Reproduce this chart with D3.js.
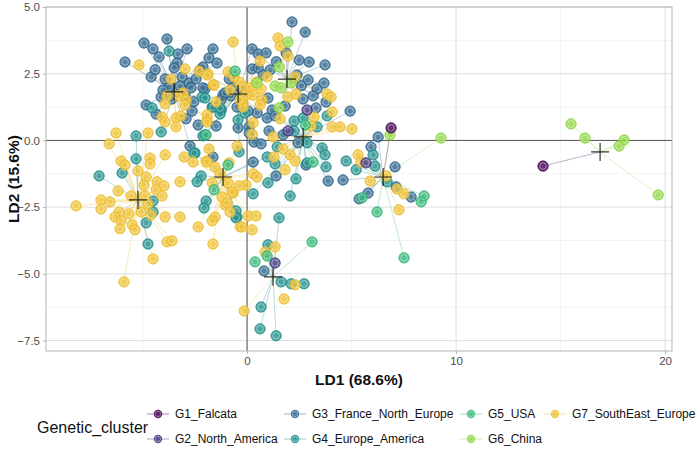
<!DOCTYPE html>
<html>
<head>
<meta charset="utf-8">
<script src="https://cdn.jsdelivr.net/npm/d3@7"></script>
<style>
  body { margin: 0; background: #fff; }
  svg { display: block; font-family: "Liberation Sans", Arial, sans-serif; }
</style>
</head>
<body>
<div id="chart"></div>
<script>
// centroid of each sub-population (LD1, LD2)
const popCentroids = [
  [-3.49, 1.82], [-0.43, 1.74], [1.91, 2.30], [2.68, 0.13], [-5.22, -2.23],
  [-1.15, -1.37], [6.51, -1.37], [1.24, -5.11], [16.89, -0.43]
];

// individuals per genetic cluster: [LD1, LD2, centroid index]
const g1Falcata = [[6.89, 0.47, 6], [14.16, -0.96, 8]];

const g2NorthAmerica = [[2.87, 1.14, 3], [1.96, 0.36, 3], [5.69, -0.84, 6], [1.34, -4.59, 7]];

const g3FranceNorthEurope = [
  [-4.93, 3.65, 0], [-3.83, 3.80, 0], [-4.50, 3.43, 0], [-3.30, 3.24, 0], [-2.87, 3.43, 0],
  [-4.21, 3.13, 0], [-5.84, 2.94, 0], [-3.35, 2.90, 0], [-3.49, 2.72, 0], [-4.59, 2.38, 0],
  [-3.92, 2.30, 0], [-3.11, 2.38, 0], [-2.78, 2.15, 0], [-2.68, 1.97, 0], [-3.73, 2.00, 0],
  [-4.11, 1.63, 0], [-4.83, 1.33, 0], [-4.35, 0.99, 0], [-2.63, 1.10, 0], [-2.92, 0.81, 0],
  [-2.34, 0.58, 0], [-1.48, 0.54, 0], [-2.73, -0.21, 0], [-2.44, 2.30, 0], [-2.11, 2.75, 0],
  [-1.82, 3.09, 0], [-1.63, 3.43, 0], [-1.44, 2.90, 0], [-2.01, 1.93, 0], [-3.21, 2.04, 0],
  [-4.02, 1.89, 0], [-2.97, 1.70, 0], [-3.60, 1.55, 0], [-2.55, 1.45, 0], [-4.40, 2.65, 0],
  [-1.15, 1.70, 1], [-1.24, 1.14, 1], [-0.77, 1.67, 1], [-0.67, 2.00, 1], [-0.48, 1.25, 1],
  [-0.43, 0.47, 1], [0.10, 0.51, 1], [-1.67, 1.25, 1], [-2.11, 1.97, 1], [-1.24, 1.52, 1],
  [-1.05, 1.78, 1], [0.24, 2.68, 1], [0.24, 3.43, 1], [0.53, 2.72, 1], [0.77, 2.45, 1],
  [0.48, 1.03, 1], [0.96, 0.84, 1], [1.00, 1.59, 1], [0.10, 0.28, 1], [0.33, -0.06, 1],
  [0.67, -0.13, 1], [-2.25, 2.64, 1], [-0.20, 1.85, 1], [-0.85, 2.30, 1], [0.05, 1.10, 1],
  [-1.63, -0.62, 5], [0.29, -0.81, 5],
  [2.15, 4.44, 2], [2.78, 4.06, 2], [1.87, 3.28, 2], [0.53, 3.24, 2], [0.91, 3.28, 2],
  [2.49, 3.01, 2], [2.97, 2.94, 2], [3.73, 2.83, 2], [1.10, 2.64, 2], [2.39, 2.45, 2],
  [2.92, 2.27, 2], [3.35, 1.93, 2], [3.68, 2.15, 2], [3.78, 1.44, 2], [2.68, 1.55, 2],
  [3.16, 1.67, 2], [1.82, 1.29, 2], [1.40, 2.95, 2], [2.60, 2.05, 2],
  [1.20, 1.14, 3], [1.34, 0.92, 3], [3.30, 1.22, 3], [4.93, 1.10, 3], [1.05, 0.36, 3],
  [1.72, 0.21, 3], [2.44, -0.09, 3], [2.82, -0.92, 3], [3.88, -1.52, 3], [1.39, -1.33, 3],
  [6.27, 0.13, 6], [5.93, -0.24, 6], [7.08, -0.99, 6], [4.59, -1.48, 6], [7.13, -1.74, 6],
  [7.85, -2.12, 6], [5.79, -1.97, 6], [5.36, -2.19, 6],
  [0.81, -4.89, 7]
];

const g4EuropeAmerica = [
  [-3.73, 3.35, 0], [-4.55, 1.22, 0], [-4.11, 0.32, 0], [-2.15, 1.63, 0],
  [-1.29, 0.99, 1], [-2.11, 0.17, 1], [-1.63, 1.25, 1], [-0.43, 0.77, 1], [-0.10, 1.03, 1],
  [-1.29, 1.22, 1], [-2.01, 1.59, 1], [-2.01, 0.21, 1], [-0.38, -0.43, 1],
  [-5.31, 0.17, 4], [-5.31, -0.69, 4], [-7.08, -1.33, 4], [-5.98, -1.22, 4], [-4.50, -2.27, 4],
  [-4.50, -2.68, 4], [-4.83, -3.09, 4], [-4.74, -3.88, 4],
  [-2.49, -0.47, 5], [-2.54, -0.47, 5], [-2.20, -1.33, 5], [-2.39, -1.55, 5], [-1.96, -2.27, 5],
  [-2.06, -2.53, 5], [-0.48, -2.87, 5], [-0.53, -2.64, 5], [-0.53, -2.90, 5], [0.96, -0.62, 5],
  [2.25, 0.73, 3], [2.68, 0.84, 3], [3.35, 0.51, 3], [3.83, 0.92, 3], [2.25, 0.36, 3],
  [2.87, -0.09, 3], [1.44, -0.24, 3], [3.59, -0.28, 3], [3.73, -0.54, 3], [2.87, -0.84, 3],
  [3.78, -0.99, 3], [1.34, -0.88, 3], [2.34, -1.44, 3], [1.00, -1.59, 3], [0.29, -2.00, 3],
  [2.06, -2.08, 3],
  [6.03, -0.54, 6], [4.74, -0.77, 6], [5.22, -1.10, 6], [6.12, -0.96, 6], [6.70, -1.55, 6],
  [1.53, -2.90, 7], [1.00, -3.91, 7], [1.63, -5.30, 7], [2.11, -5.37, 7], [2.73, -5.37, 7],
  [0.67, -6.24, 7], [0.62, -7.06, 7], [1.39, -7.32, 7]
];

const g5USA = [
  [-0.57, 2.60, 1], [-1.96, 0.21, 1],
  [2.78, 0.58, 3], [3.16, -0.81, 3],
  [-1.58, -1.85, 5], [-0.91, -0.92, 5],
  [5.50, -2.15, 6], [6.22, -2.68, 6], [7.51, -4.40, 6], [8.47, -2.08, 6], [8.33, -2.30, 6],
  [3.11, -3.80, 7], [0.96, -4.33, 7], [0.38, -4.55, 7]
];

const g6China = [
  [1.96, 3.69, 2], [1.53, 2.75, 2], [1.34, 2.04, 2], [1.63, 1.97, 2], [2.11, 2.15, 2],
  [1.53, 1.22, 2], [0.48, 2.15, 1],
  [6.84, 0.21, 6], [9.28, 0.09, 6],
  [15.50, 0.62, 8], [16.17, 0.09, 8], [18.04, 0.02, 8], [17.80, -0.21, 8], [19.67, -2.04, 8]
];

const g7SouthEastEurope = [
  [-5.17, 2.83, 0], [-2.97, 2.68, 0], [-3.64, 2.30, 0], [-3.06, 1.78, 0], [-3.83, 1.67, 0],
  [-2.92, 1.52, 0], [-2.97, 1.33, 0], [-3.92, 1.37, 0], [-4.07, 0.88, 0], [-3.92, 0.69, 0],
  [-3.40, 0.84, 0], [-3.16, 0.92, 0], [-3.40, 0.51, 0], [-1.91, 0.77, 0], [-2.30, 2.60, 0],
  [-1.87, 2.49, 0], [-1.63, 2.08, 0], [-3.30, 1.67, 0],
  [-1.48, 1.44, 1], [-0.67, 3.69, 1], [-0.91, 2.57, 1], [-1.91, 2.45, 1], [-1.58, 2.08, 1],
  [-0.38, 2.19, 1], [-0.19, 2.00, 1], [0.14, 1.97, 1], [0.67, 1.93, 1], [0.29, 1.70, 1],
  [0.72, 1.52, 1], [-0.19, 1.40, 1], [-0.19, 1.25, 1], [0.29, 0.66, 1], [0.24, 0.24, 1],
  [-1.91, 0.96, 1], [-1.91, 0.69, 1], [0.62, 1.33, 1], [0.43, 2.19, 1], [0.96, 2.38, 1],
  [0.62, 2.98, 1], [-0.62, 2.38, 1], [-0.81, 1.89, 1], [-0.05, 1.70, 1], [-0.33, 1.52, 1],
  [1.48, 3.84, 2], [1.58, 3.54, 2], [1.96, 3.16, 2], [2.30, 2.38, 2], [1.96, 1.63, 2],
  [2.34, 1.74, 2], [3.83, 1.74, 2], [4.02, 1.63, 2], [1.58, 0.81, 2],
  [3.21, 0.88, 3], [4.07, 1.07, 3], [3.06, 0.54, 3], [4.07, 0.51, 3], [4.45, 0.51, 3],
  [5.02, 0.43, 3], [1.24, 0.13, 3], [1.72, -0.32, 3], [2.06, -0.54, 3], [2.30, -0.77, 3],
  [1.29, -0.62, 3], [1.82, -1.10, 3],
  [-6.27, 0.28, 4], [-6.60, -0.13, 4], [-4.74, 0.28, 4], [-6.03, -0.77, 4], [-5.84, -0.92, 4],
  [-4.64, -0.66, 4], [-4.64, -0.88, 4], [-3.92, -0.54, 4], [-5.22, -1.14, 4], [-4.83, -1.37, 4],
  [-4.93, -1.67, 4], [-4.31, -1.55, 4], [-3.97, -1.70, 4], [-6.17, -1.89, 4], [-4.35, -1.85, 4],
  [-4.07, -2.08, 4], [-6.99, -2.23, 4], [-6.56, -2.30, 4], [-8.18, -2.45, 4], [-6.99, -2.57, 4],
  [-4.74, -2.38, 4], [-5.07, -2.68, 4], [-6.12, -2.68, 4], [-5.65, -2.75, 4], [-6.32, -2.87, 4],
  [-6.03, -3.01, 4], [-4.59, -2.79, 4], [-3.92, -2.87, 4], [-3.21, -2.87, 4], [-5.50, -3.16, 4],
  [-5.36, -3.35, 4], [-6.08, -3.31, 4], [-3.83, -3.80, 4], [-3.59, -3.76, 4], [-4.50, -4.44, 4],
  [-5.89, -5.30, 4], [-5.55, -2.08, 4], [-4.88, -2.08, 4],
  [-3.01, -0.62, 5], [-2.58, -0.81, 5], [-1.96, -0.77, 5], [-1.82, -0.32, 5], [-1.91, -0.81, 5],
  [-1.53, -0.99, 5], [-1.29, -1.25, 5], [-3.21, -1.55, 5], [-1.67, -1.59, 5], [-1.20, -2.12, 5],
  [-0.67, -1.97, 5], [-1.05, -2.42, 5], [-0.81, -2.68, 5], [-1.53, -2.87, 5], [-1.67, -3.01, 5],
  [-2.34, -3.24, 5], [-1.63, -3.88, 5], [-0.91, -1.59, 5], [-0.33, -3.24, 5], [-0.86, -0.84, 5],
  [-0.48, -0.21, 5], [0.29, -1.25, 5], [0.48, -1.37, 5], [-0.05, -1.67, 5], [-0.38, -1.70, 5],
  [-0.72, -1.93, 5], [-0.96, -2.34, 5], [0.05, -2.83, 5], [0.43, -2.83, 5], [-0.24, -3.24, 5],
  [0.24, -3.35, 5],
  [5.31, -0.54, 6], [5.45, -0.81, 6], [5.89, -1.52, 6], [6.65, -1.33, 6], [7.51, -2.00, 6],
  [7.27, -2.60, 6], [7.18, -1.82, 6],
  [1.34, -3.99, 7], [0.86, -4.18, 7], [2.30, -5.41, 7], [1.77, -5.94, 7], [-0.14, -6.39, 7]
];

const clusterNames = ["G1_Falcata", "G2_North_America", "G3_France_North_Europe", "G4_Europe_America",
  "G5_USA", "G6_China", "G7_SouthEast_Europe"];
const clusterColors = ["#440154", "#443A83", "#31688E", "#21908C", "#35B779", "#8FD744", "#EDBF2E"];
const clusterPoints = [g1Falcata, g2NorthAmerica, g3FranceNorthEurope, g4EuropeAmerica, g5USA, g6China, g7SouthEastEurope];
const drawOrder = [2, 3, 6, 4, 5, 1, 0];

const xTicks = [0, 10, 20];
const xMinor = [-5, 5, 15];
const yTicks = [-7.5, -5.0, -2.5, 0.0, 2.5, 5.0];
const yMinor = [-6.25, -3.75, -1.25, 1.25, 3.75];

const width = 700, height = 450;
const panel = { left: 46, right: 672, top: 7, bottom: 351 };

const svg = d3.select("#chart").append("svg")
  .attr("width", width)
  .attr("height", height);

const x = d3.scaleLinear().domain([-9.62, 20.33]).range([panel.left, panel.right]);
const y = d3.scaleLinear().domain([-7.89, 5.0]).range([panel.bottom, panel.top]);
const color = d3.scaleOrdinal().domain(clusterNames).range(clusterColors);

// grid
const grid = svg.append("g");
grid.selectAll(".xminor").data(xMinor).enter().append("line")
  .attr("x1", d => x(d)).attr("x2", d => x(d))
  .attr("y1", panel.top).attr("y2", panel.bottom)
  .attr("stroke", "#ededed").attr("stroke-width", 0.6);
grid.selectAll(".yminor").data(yMinor).enter().append("line")
  .attr("y1", d => y(d)).attr("y2", d => y(d))
  .attr("x1", panel.left).attr("x2", panel.right)
  .attr("stroke", "#ededed").attr("stroke-width", 0.6);
grid.selectAll(".xmajor").data(xTicks).enter().append("line")
  .attr("x1", d => x(d)).attr("x2", d => x(d))
  .attr("y1", panel.top).attr("y2", panel.bottom)
  .attr("stroke", "#dedede").attr("stroke-width", 1);
grid.selectAll(".ymajor").data(yTicks).enter().append("line")
  .attr("y1", d => y(d)).attr("y2", d => y(d))
  .attr("x1", panel.left).attr("x2", panel.right)
  .attr("stroke", "#dedede").attr("stroke-width", 1);

// reference lines at zero
svg.append("line")
  .attr("x1", panel.left).attr("x2", panel.right)
  .attr("y1", y(0)).attr("y2", y(0))
  .attr("stroke", "#555").attr("stroke-width", 1);
svg.append("line")
  .attr("x1", x(0)).attr("x2", x(0))
  .attr("y1", panel.top).attr("y2", panel.bottom)
  .attr("stroke", "#555").attr("stroke-width", 1);

// axes
const xAxis = svg.append("g")
  .attr("transform", `translate(0,${panel.bottom})`)
  .call(d3.axisBottom(x).tickValues(xTicks).tickSize(3).tickPadding(3));
const yAxis = svg.append("g")
  .attr("transform", `translate(${panel.left},0)`)
  .call(d3.axisLeft(y).tickValues(yTicks).tickFormat(d3.format(".1f")).tickSize(3).tickPadding(3));
[xAxis, yAxis].forEach(a => {
  a.select(".domain").remove();
  a.selectAll(".tick line").attr("stroke", "#b3b3b3");
  a.selectAll("text").attr("fill", "#4d4d4d").style("font-size", "11.5px");
});

// segments from each individual to its population centroid
const segLayer = svg.append("g");
drawOrder.forEach(i => {
  segLayer.selectAll(null).data(clusterPoints[i]).enter().append("line")
    .attr("x1", d => x(d[0])).attr("y1", d => y(d[1]))
    .attr("x2", d => x(popCentroids[d[2]][0])).attr("y2", d => y(popCentroids[d[2]][1]))
    .attr("stroke", clusterColors[i])
    .attr("stroke-opacity", 0.4)
    .attr("stroke-width", 0.8);
});

// points
const ptLayer = svg.append("g");
drawOrder.forEach(i => {
  const g = ptLayer.selectAll(null).data(clusterPoints[i]).enter().append("g")
    .attr("transform", d => `translate(${x(d[0])},${y(d[1])})`);
  g.append("circle")
    .attr("r", 5.2)
    .attr("fill", clusterColors[i])
    .attr("fill-opacity", 0.8)
    .attr("stroke", clusterColors[i])
    .attr("stroke-width", 0.8);
  g.append("circle")
    .attr("r", 3.3)
    .attr("fill", "none")
    .attr("stroke", "#fff")
    .attr("stroke-opacity", 0.45)
    .attr("stroke-width", 0.9);
});

// centroid crosses
svg.append("g").selectAll("path").data(popCentroids).enter().append("path")
  .attr("d", d => {
    const cx = x(d[0]), cy = y(d[1]);
    return `M${cx - 9},${cy}H${cx + 9}M${cx},${cy - 9}V${cy + 9}`;
  })
  .attr("stroke", "#111")
  .attr("stroke-opacity", 0.85)
  .attr("stroke-width", 1.2)
  .attr("fill", "none");

// panel border
svg.append("rect")
  .attr("x", panel.left).attr("y", panel.top)
  .attr("width", panel.right - panel.left).attr("height", panel.bottom - panel.top)
  .attr("fill", "none").attr("stroke", "#b3b3b3").attr("stroke-width", 1);

// axis titles
svg.append("text")
  .attr("x", (panel.left + panel.right) / 2).attr("y", 385)
  .attr("text-anchor", "middle")
  .style("font-size", "15.5px").style("font-weight", "bold").attr("fill", "#111")
  .text("LD1 (68.6%)");
svg.append("text")
  .attr("transform", `translate(19,${(panel.top + panel.bottom) / 2}) rotate(-90)`)
  .attr("text-anchor", "middle")
  .style("font-size", "15.5px").style("font-weight", "bold").attr("fill", "#111")
  .text("LD2 (15.6%)");

// legend
const legend = svg.append("g");
legend.append("text")
  .attr("x", 37).attr("y", 433)
  .style("font-size", "16px").attr("fill", "#111")
  .text("Genetic_cluster");
const legendPos = [
  [158, 414], [158, 439], [295, 414], [295, 439], [471, 414], [471, 439], [555, 414]
];
const item = legend.selectAll(".item").data(clusterNames).enter().append("g")
  .attr("transform", (d, i) => `translate(${legendPos[i][0]},${legendPos[i][1]})`);
item.append("line")
  .attr("x1", -11).attr("x2", 11)
  .attr("stroke", d => color(d)).attr("stroke-opacity", 0.6).attr("stroke-width", 0.8);
item.append("circle")
  .attr("r", 4.2)
  .attr("fill", d => color(d)).attr("fill-opacity", 0.85);
item.append("circle")
  .attr("r", 2.6)
  .attr("fill", "none").attr("stroke", "#fff").attr("stroke-opacity", 0.4).attr("stroke-width", 0.8);
item.append("text")
  .attr("x", 17).attr("dy", "0.35em")
  .style("font-size", "12px").attr("fill", "#111")
  .text(d => d);
</script>
</body>
</html>
